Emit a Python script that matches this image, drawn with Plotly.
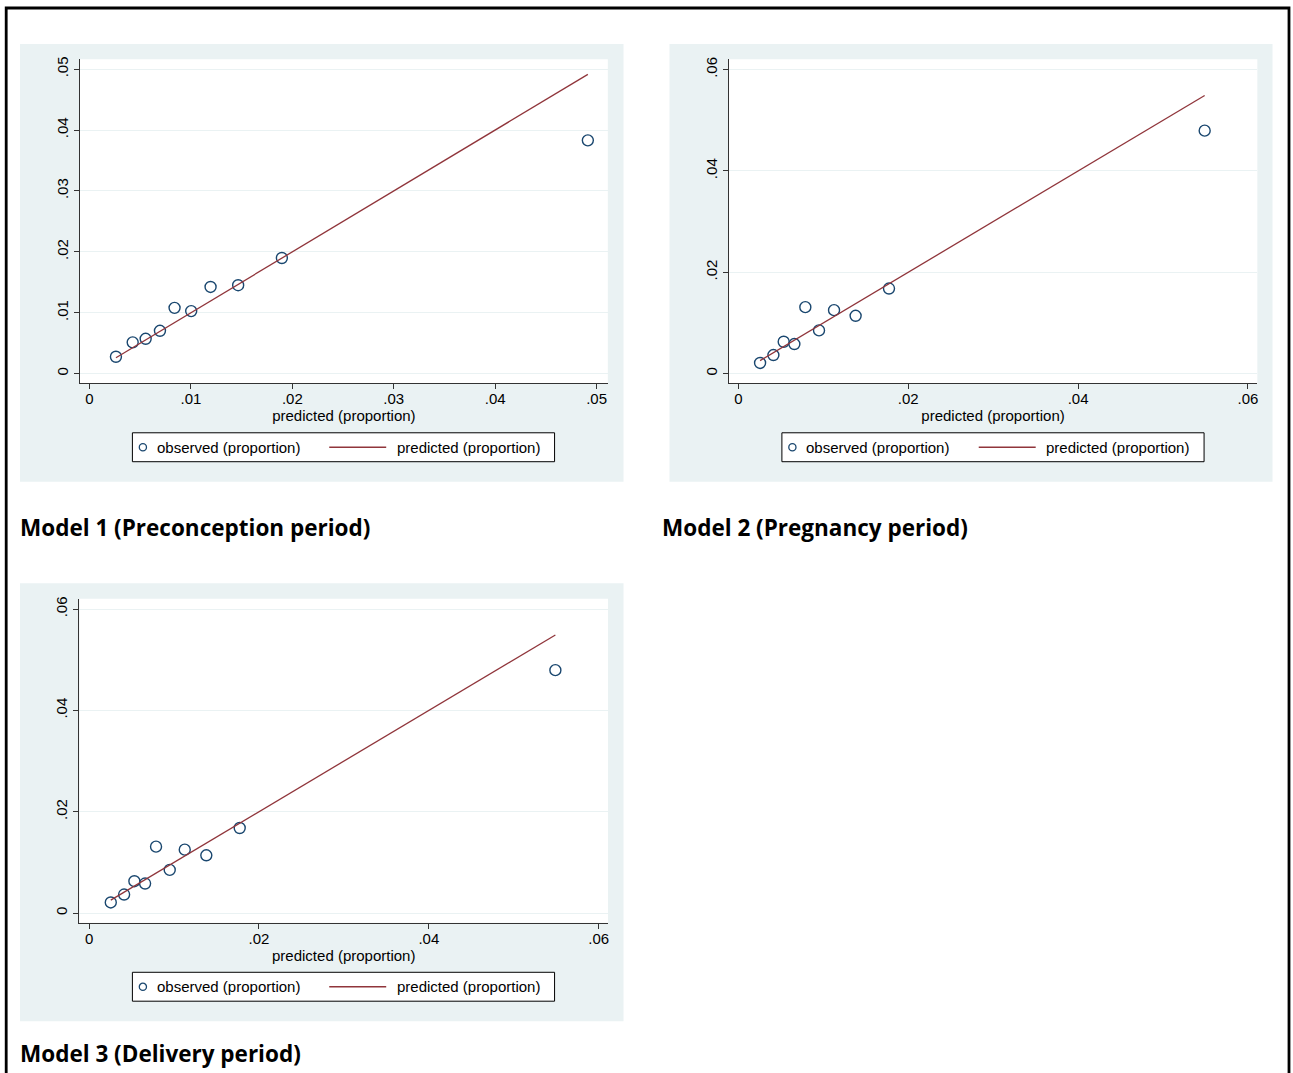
import plotly.graph_objects as go

W, H = 1293, 1073
DY = 2.0  # small vertical compensation for page rendering

# ---------------- data ----------------
m1_pred = [0.00261, 0.00426, 0.00554, 0.00695, 0.00839, 0.01003, 0.01194, 0.01466, 0.01897, 0.04914]
m1_obs = [0.00278, 0.00514, 0.00573, 0.00704, 0.01081, 0.01027, 0.01424, 0.01452, 0.01899, 0.03831]

m2_pred = [0.00255, 0.00412, 0.00533, 0.00659, 0.00788, 0.00949, 0.01126, 0.01380, 0.01773, 0.05490]
m2_obs = [0.00209, 0.00366, 0.00628, 0.00583, 0.01311, 0.00852, 0.01252, 0.01140, 0.01679, 0.04795]

m3_pred = [0.00255, 0.00412, 0.00533, 0.00659, 0.00788, 0.00949, 0.01126, 0.01380, 0.01773, 0.05490]
m3_obs = [0.00209, 0.00366, 0.00628, 0.00583, 0.01311, 0.00852, 0.01252, 0.01140, 0.01679, 0.04795]

m1_tickvals = [0, 0.01, 0.02, 0.03, 0.04, 0.05]
m1_ticktext = ["0", ".01", ".02", ".03", ".04", ".05"]
m23_tickvals = [0, 0.02, 0.04, 0.06]
m23_ticktext = ["0", ".02", ".04", ".06"]

panel_titles = ["Model 1 (Preconception period)", "Model 2 (Pregnancy period)", "Model 3 (Delivery period)"]
x_title = "predicted (proportion)"
legend_obs = "observed (proportion)"
legend_pred = "predicted (proportion)"

# ---------------- styling ----------------
MARKER_COL = "#1a476f"
LINE_COL = "#90353b"
PANEL_BG = "#eaf2f3"
GRID_COL = "#eaf2f3"
AXIS_COL = "#333333"
TICK_FONT = dict(family="Liberation Sans, Arial, sans-serif", size=15, color="#000000")
TITLE_FONT = dict(family="Open Sans, sans-serif", size=22.5, color="#000000")


def px(x):
    return x / W


def py(y):
    return 1 - (y - DY) / H


# panel geometry in pixels: (bg box, plot box, axis ranges)
panels = [
    dict(bg=(20, 43, 624, 482), plot=(80, 58.3, 608.3, 383.3),
         xr=[-0.00094, 0.05111], yr=[-0.00157, 0.05164],
         tv=m1_tickvals, tt=m1_ticktext, pred=m1_pred, obs=m1_obs,
         leg=(132.5, 433, 555, 462), title=(18, 528), standoff=0),
    dict(bg=(670, 43, 1273.5, 482), plot=(729.3, 58.3, 1258.3, 383.3),
         xr=[-0.00114, 0.0611], yr=[-0.00191, 0.06207],
         tv=m23_tickvals, tt=m23_ticktext, pred=m2_pred, obs=m2_obs,
         leg=(782.5, 433, 1205, 462), title=(661, 528), standoff=4),
    dict(bg=(20, 584, 624, 1023), plot=(79.5, 599.3, 608.5, 924.3),
         xr=[-0.00114, 0.0611], yr=[-0.00191, 0.06207],
         tv=m23_tickvals, tt=m23_ticktext, pred=m3_pred, obs=m3_obs,
         leg=(132.5, 974, 555, 1003), title=(18, 1055), standoff=4),
]

fig = go.Figure()
shapes = []
annotations = []
layout_axes = {}

for i, p in enumerate(panels, start=1):
    xa = "x" if i == 1 else f"x{i}"
    ya = "y" if i == 1 else f"y{i}"
    # traces
    fig.add_trace(go.Scatter(
        x=p["pred"], y=p["obs"], mode="markers", xaxis=xa, yaxis=ya,
        marker=dict(symbol="circle-open", size=11, color=MARKER_COL, line=dict(width=1.4, color=MARKER_COL)),
        showlegend=False, name=legend_obs))
    fig.add_trace(go.Scatter(
        x=p["pred"], y=p["pred"], mode="lines", xaxis=xa, yaxis=ya,
        line=dict(color=LINE_COL, width=1.3),
        showlegend=False, name=legend_pred))

    x0, y0, x1, y1 = p["plot"]
    xkey = "xaxis" if i == 1 else f"xaxis{i}"
    ykey = "yaxis" if i == 1 else f"yaxis{i}"
    layout_axes[xkey] = dict(
        domain=[px(x0), px(x1)], range=p["xr"], anchor=ya,
        showline=True, linecolor=AXIS_COL, linewidth=1.2, mirror=False,
        ticks="outside", ticklen=5, tickwidth=1, tickcolor=AXIS_COL,
        tickvals=p["tv"], ticktext=p["tt"], tickfont=TICK_FONT, ticklabelstandoff=-3,
        showgrid=False, zeroline=False,
        title=dict(text=x_title, font=TICK_FONT, standoff=p["standoff"]),
    )
    layout_axes[ykey] = dict(
        domain=[py(y1), py(y0)], range=p["yr"], anchor=xa,
        showline=True, linecolor=AXIS_COL, linewidth=1.2,
        ticks="outside", ticklen=5, tickwidth=1, tickcolor=AXIS_COL,
        tickvals=p["tv"], ticktext=p["tt"], tickfont=TICK_FONT, tickangle=-90,
        showgrid=True, gridcolor=GRID_COL, gridwidth=1.2, zeroline=False,
    )

    # panel background
    bx0, by0, bx1, by1 = p["bg"]
    shapes.append(dict(type="rect", xref="paper", yref="paper", layer="below",
                       x0=px(bx0), x1=px(bx1), y0=py(by1), y1=py(by0),
                       fillcolor=PANEL_BG, line=dict(width=0)))
    # white plot region
    shapes.append(dict(type="rect", xref=xa + " domain", yref=ya + " domain", layer="below",
                       x0=0, x1=1, y0=0, y1=1,
                       fillcolor="white", line=dict(width=0)))

    # legend box
    lx0, ly0, lx1, ly1 = p["leg"]
    lyc = (ly0 + ly1) / 2
    shapes.append(dict(type="rect", xref="paper", yref="paper", layer="above",
                       x0=px(lx0), x1=px(lx1), y0=py(ly1), y1=py(ly0),
                       fillcolor="white", line=dict(width=1, color="#000000")))
    mx = lx0 + 10.5
    shapes.append(dict(type="circle", xref="paper", yref="paper", layer="above",
                       x0=px(mx - 3.6), x1=px(mx + 3.6), y0=py(lyc + 3.6), y1=py(lyc - 3.6),
                       fillcolor="rgba(0,0,0,0)", line=dict(width=1.3, color=MARKER_COL)))
    shapes.append(dict(type="line", xref="paper", yref="paper", layer="above",
                       x0=px(lx0 + 197), x1=px(lx0 + 254), y0=py(lyc), y1=py(lyc),
                       line=dict(width=1.3, color=LINE_COL)))
    annotations.append(dict(text=legend_obs, xref="paper", yref="paper", showarrow=False,
                            x=px(lx0 + 22.5), y=py(lyc), xanchor="left", yanchor="middle",
                            font=TICK_FONT))
    annotations.append(dict(text=legend_pred, xref="paper", yref="paper", showarrow=False,
                            x=px(lx0 + 262.5), y=py(lyc), xanchor="left", yanchor="middle",
                            font=TICK_FONT))

    # panel caption
    tx, ty = p["title"]
    annotations.append(dict(text=f"<b>{panel_titles[i-1]}</b>", xref="paper", yref="paper",
                            showarrow=False, x=px(tx), y=py(ty), xanchor="left", yanchor="middle",
                            font=TITLE_FONT))

# outer frame
shapes.append(dict(type="rect", xref="paper", yref="paper", layer="above",
                   x0=px(6.2), x1=px(1290), y0=-0.05, y1=py(7),
                   fillcolor="rgba(0,0,0,0)", line=dict(width=2.8, color="#000000")))

fig.update_layout(
    width=W, height=H, margin=dict(l=0, r=0, t=0, b=0),
    paper_bgcolor="white", plot_bgcolor="white",
    showlegend=False, shapes=shapes, annotations=annotations,
    **layout_axes,
)

fig.write_html("out.html", config={"displayModeBar": False},
               post_script="document.body.style.margin='0px';document.body.style.padding='0px';"
                           "document.body.style.overflow='hidden';")
